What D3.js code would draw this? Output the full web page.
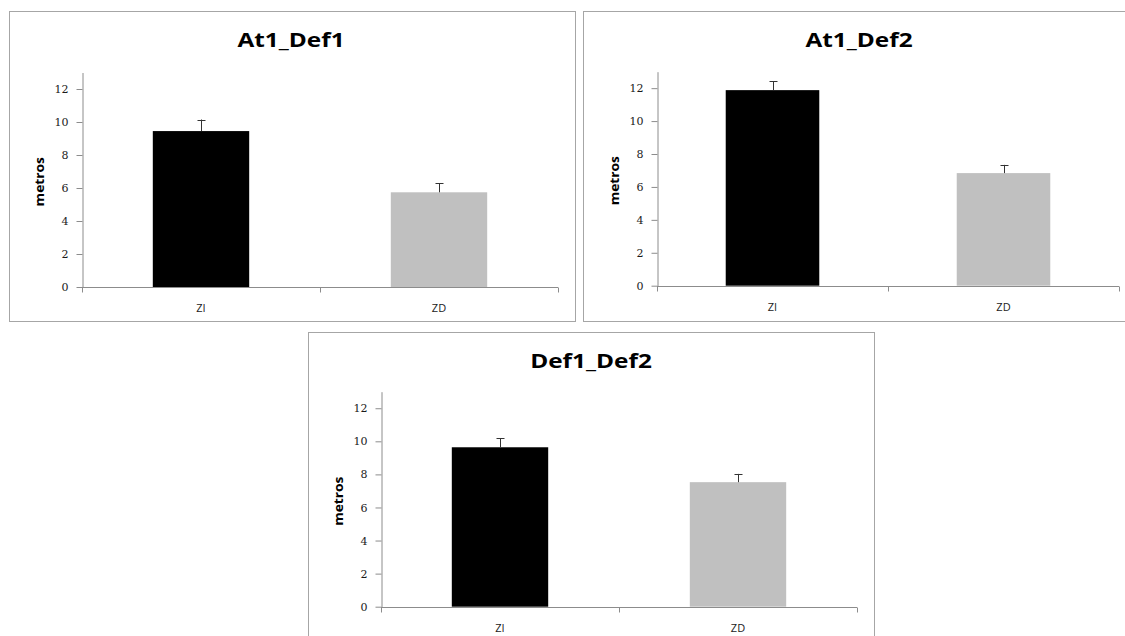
<!DOCTYPE html>
<html>
<head>
<meta charset="utf-8">
<script src="https://cdn.jsdelivr.net/npm/d3@7"></script>
<style>
  html, body { margin: 0; padding: 0; background: #fff; }
  svg { display: block; }
</style>
</head>
<body>
<svg id="chart" width="1125" height="636"></svg>
<script>
// ---- data ----
const categories = ["ZI", "ZD"];
const titles = ["At1_Def1", "At1_Def2", "Def1_Def2"];
const means1 = [9.45, 5.74];
const errs1  = [0.70, 0.54];
const means2 = [11.88, 6.84];
const errs2  = [0.54, 0.50];
const means3 = [9.64, 7.53];
const errs3  = [0.55, 0.50];
const yTicks = [0, 2, 4, 6, 8, 10, 12];
const yLabel = "metros";
const barColors = ["#000000", "#c0c0c0"];

// ---- layout ----
const panels = [
  { frame: [9, 11, 575, 321],    titleX: 291, plot: [82, 72.5, 558, 287],     means: means1, errs: errs1 },
  { frame: [583, 11, 1140, 321], titleX: 859, plot: [657, 71.7, 1119, 285.7], means: means2, errs: errs2 },
  { frame: [308, 332, 874, 645], titleX: 591, plot: [381, 391.7, 857, 606.7], means: means3, errs: errs3 }
];

const svg = d3.select("#chart");

panels.forEach((p, i) => {
  const [fx0, fy0, fx1, fy1] = p.frame;
  const [px0, py0, px1, py1] = p.plot;
  const g = svg.append("g");

  g.append("rect")
    .attr("x", fx0 + 0.5).attr("y", fy0 + 0.5)
    .attr("width", fx1 - fx0).attr("height", fy1 - fy0)
    .attr("fill", "#fff").attr("stroke", "#a6a6a6").attr("stroke-width", 1);

  const x = d3.scaleBand().domain(categories).range([px0, px1]).padding(0);
  const y = d3.scaleLinear().domain([0, 13]).range([py1, py0]);

  // title
  g.append("text")
    .attr("transform", `translate(${p.titleX},${fy0 + 36}) scale(1.22,1)`)
    .attr("text-anchor", "middle")
    .attr("font-family", "'Open Sans', 'Liberation Sans', sans-serif")
    .attr("font-weight", "bold")
    .attr("font-size", 20)
    .attr("fill", "#000")
    .text(titles[i]);

  // y axis
  const yAxis = d3.axisLeft(y).tickValues(yTicks).tickSize(6).tickSizeOuter(0).tickPadding(8);
  const ya = g.append("g").attr("transform", `translate(${px0 + 0.5},0)`).call(yAxis);
  ya.select(".domain").attr("stroke", "#8c8c8c");
  ya.selectAll(".tick line").attr("stroke", "#8c8c8c");
  ya.selectAll(".tick text")
    .attr("font-family", "'DejaVu Serif', 'Liberation Serif', serif")
    .attr("font-size", 11)
    .attr("fill", "#1a1a1a");

  // y label
  g.append("text")
    .attr("transform", `translate(${px0 - 38},${(py0 + py1) / 2 + 2}) rotate(-90) scale(1.15,1)`)
    .attr("text-anchor", "middle")
    .attr("font-family", "'Open Sans', 'Liberation Sans', sans-serif")
    .attr("font-weight", "bold")
    .attr("font-size", 12)
    .attr("fill", "#000")
    .text(yLabel);

  // bars
  const bw = x.bandwidth() * 0.405;
  g.selectAll("rect.bar").data(categories).enter().append("rect")
    .attr("class", "bar")
    .attr("x", d => x(d) + (x.bandwidth() - bw) / 2)
    .attr("y", (d, j) => y(p.means[j]))
    .attr("width", bw)
    .attr("height", (d, j) => y(0) - y(p.means[j]))
    .attr("fill", (d, j) => barColors[j]);

  // error bars (upper only)
  categories.forEach((c, j) => {
    const cx = Math.round(x(c) + x.bandwidth() / 2) + 0.5;
    const top = y(p.means[j] + p.errs[j]);
    g.append("line")
      .attr("x1", cx).attr("x2", cx)
      .attr("y1", y(p.means[j])).attr("y2", top)
      .attr("stroke", "#333").attr("stroke-width", 1);
    g.append("line")
      .attr("x1", cx - 4).attr("x2", cx + 4)
      .attr("y1", Math.round(top) + 0.5).attr("y2", Math.round(top) + 0.5)
      .attr("stroke", "#333").attr("stroke-width", 1);
  });

  // x axis
  const xa = g.append("g").attr("transform", `translate(0,${Math.round(py1) + 0.5})`);
  xa.append("line").attr("x1", px0).attr("x2", px1).attr("stroke", "#8c8c8c");
  const edges = [x.range()[0]].concat(categories.map(c => x(c) + x.bandwidth()));
  xa.selectAll("line.tk").data(edges).enter().append("line")
    .attr("class", "tk")
    .attr("x1", d => Math.round(d) + 0.5).attr("x2", d => Math.round(d) + 0.5)
    .attr("y1", 0).attr("y2", 5)
    .attr("stroke", "#8c8c8c");
  xa.selectAll("text").data(categories).enter().append("text")
    .attr("x", d => x(d) + x.bandwidth() / 2)
    .attr("y", 24)
    .attr("text-anchor", "middle")
    .attr("font-family", "'Open Sans', 'Liberation Sans', sans-serif")
    .attr("font-size", 11)
    .attr("fill", "#222")
    .text(d => d);
});
</script>
</body>
</html>
